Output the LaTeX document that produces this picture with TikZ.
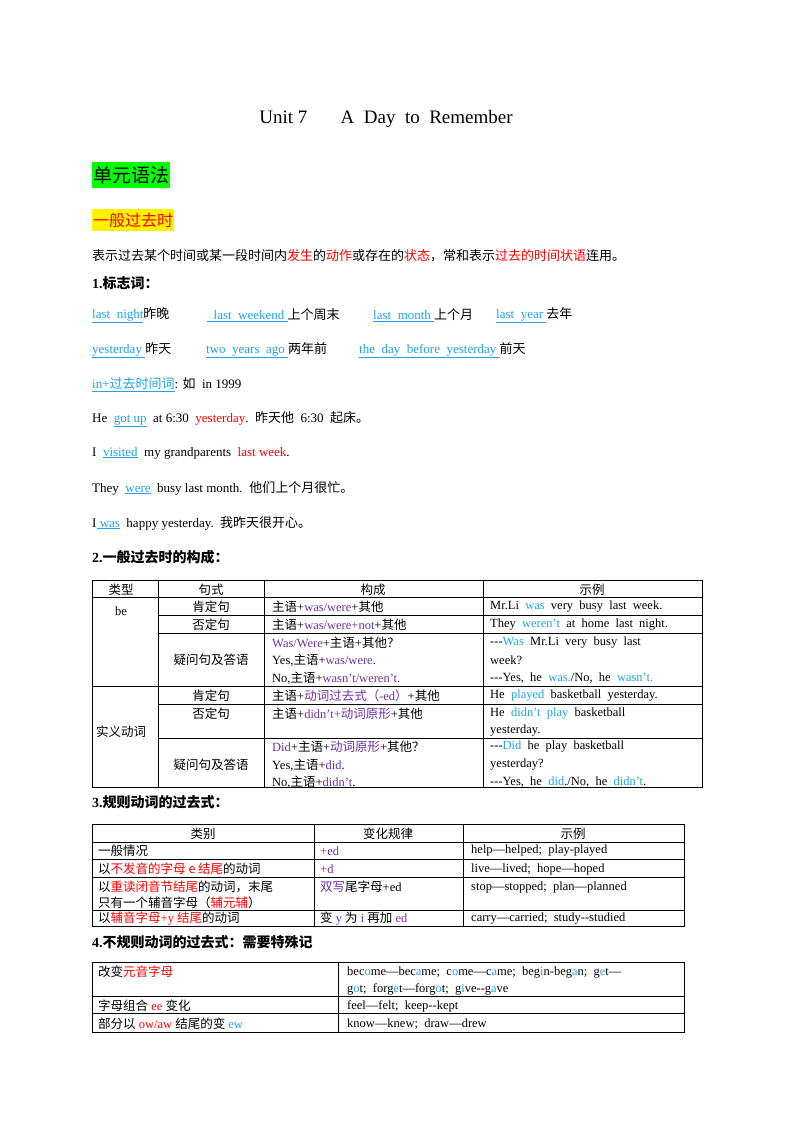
\documentclass[tikz,border=0pt]{standalone}
\usepackage{fontspec}
\setmainfont{Liberation Serif}
\newfontfamily\cjk{Noto Sans CJK SC}
\usepackage{xcolor}
\usetikzlibrary{positioning}
\definecolor{lk}{HTML}{1FA3E6}
\definecolor{pu}{HTML}{7030A0}
\definecolor{rd}{HTML}{FF0000}
\newcommand\z[1]{{\cjk #1}}
\newcommand\lk[1]{\textcolor{lk}{\underline{#1}}}
\newcommand\cb[1]{\textcolor{lk}{#1}}
\newcommand\cp[1]{\textcolor{pu}{#1}}
\newcommand\cre[1]{\textcolor{rd}{#1}}
\newcommand\hy{-{}-{}-}
\newcommand\hh{-{}-}

\begin{document}
\begin{tikzpicture}[x=1pt,y=-1pt,
                    txt/.style={anchor=west,inner sep=0,font=\fontsize{13}{15}\selectfont},
                    cell/.style={anchor=west,inner sep=0,font=\fontsize{12.5}{15}\selectfont},
                    mid/.style={anchor=center,inner sep=0,font=\fontsize{12.5}{15}\selectfont},
                    head/.style={anchor=west,inner sep=0,font=\fontsize{14}{16}\selectfont\bfseries},
                    grid/.style={line width=0.7pt}
                ]
    \useasboundingbox (0,0) rectangle (800,1132);
    % title and headings
    \node[anchor=center,inner sep=0,font=\fontsize{19}{21}\selectfont] (title) at (386,119) {Unit 7\quad\ \ \ A\ \ Day\ \ to\ \ Remember};
    \node[anchor=west,fill=green,inner sep=1pt,minimum height=26pt,font=\fontsize{19}{22}\selectfont] (unit) at (92,175) {\z{单元语法}};
    \node[anchor=west,fill=yellow,inner sep=1pt,minimum height=22pt,font=\fontsize{16}{18}\selectfont] (tense) at (92,220) {\cre{\z{一般过去时}}};
    \node[txt] (def) at (92,256) {\z{表示过去某个时间或某一段时间内\cre{发生}的\cre{动作}或存在的\cre{状态}，常和表示\cre{过去的时间状语}连用。}};
    \node[head] (h1) at (92,283) {1.\z{\bfseries 标志词：}};
    % signal words
    \node[txt] (w1) at (92,315) {\lk{last\ \ night}\z{昨晚}};
    \node[txt] (w2) at (207,315) {\lk{\ \ last\ \ weekend\ }\z{上个周末}};
    \node[txt] (w3) at (373,315) {\lk{last\ \ month\ }\z{上个月}};
    \node[txt] (w4) at (496,315) {\lk{last\ \ year\ }\z{去年}};
    \node[txt] (w5) at (92,350) {\lk{yesterday\ }\z{昨天}};
    \node[txt] (w6) at (206,350) {\lk{two\ \ years\ \ ago\ }\z{两年前}};
    \node[txt] (w7) at (359,350) {\lk{the\ \ day\ \ before\ \ yesterday\ }\z{前天}};
    \node[txt] (w8) at (92,385) {\lk{in+\z{过去时间词}}: \z{如}\ \ in 1999};
    % examples
    \node[txt] (e1) at (92,419) {He\ \ \lk{got\ up}\ \ at 6:30\ \ \cre{yesterday}.\ \ \z{昨天他}\ \ 6:30\ \ \z{起床。}};
    \node[txt] (e2) at (92,453) {I\ \ \lk{visited}\ \ my grandparents\ \ \cre{last week}.};
    \node[txt] (e3) at (92,488) {They\ \ \lk{were}\ \ busy last month.\ \ \z{他们上个月很忙。}};
    \node[txt] (e4) at (92,523) {I\lk{\ was}\ \ happy yesterday.\ \ \z{我昨天很开心。}};
    \node[head] (h2) at (92,557) {2.\z{\bfseries 一般过去时的构成：}};
    % table 1
    \draw[grid] (92,580) rectangle (702,787);
    \foreach \x in {158,264,483} \draw[grid] (\x,580) -- (\x,787);
    \foreach \y in {597,686} \draw[grid] (92,\y) -- (702,\y);
    \foreach \y in {615,633,704,738} \draw[grid] (158,\y) -- (702,\y);
    \node[mid] (a0) at (121,590) {\z{类型}};
    \node[mid] (b0) at (211,590) {\z{句式}};
    \node[mid] (c0) at (373,590) {\z{构成}};
    \node[mid] (d0) at (592,590) {\z{示例}};
    \node[mid] (a1) at (121,611) {be};
    \node[mid] (b1) at (211,607) {\z{肯定句}};
    \node[cell] (c1) at (272,607) {\z{主语}+\cp{was/were}+\z{其他}};
    \node[cell] (d1) at (490,607) {Mr.Li\ \ \cb{was}\ \ very\ \ busy\ \ last\ \ week.};
    \node[mid] (b2) at (211,625) {\z{否定句}};
    \node[cell] (c2) at (272,625) {\z{主语}+\cp{was/were+not}+\z{其他}};
    \node[cell] (d2) at (490,625) {They\ \ \cb{weren't}\ \ at\ \ home\ \ last\ \ night.};
    \node[mid] (b3) at (211,660) {\z{疑问句及答语}};
    \node[cell] (c3) at (272,643) {\cp{Was/Were}+\z{主语}+\z{其他？}};
    \node[cell] (c3b) at (272,660) {Yes,\z{主语}+\cp{was/were}.};
    \node[cell] (c3c) at (272,678) {No,\z{主语}+\cp{wasn't/weren't}.};
    \node[cell] (d3) at (490,643) {\hy\cb{Was}\ \ Mr.Li\ \ very\ \ busy\ \ last};
    \node[cell] (d3b) at (490,660) {week?};
    \node[cell] (d3c) at (490,678) {\hy Yes,\ \ he\ \ \cb{was.}/No,\ \ he\ \ \cb{wasn't.}};
    \node[mid] (a2) at (121,732) {\z{实义动词}};
    \node[mid] (b4) at (211,696) {\z{肯定句}};
    \node[cell] (c4) at (272,696) {\z{主语}+\cp{\z{动词过去式（}-ed\z{）}}+\z{其他}};
    \node[cell] (d4) at (490,696) {He\ \ \cb{played}\ \ basketball\ \ yesterday.};
    \node[mid] (b5) at (211,714) {\z{否定句}};
    \node[cell] (c5) at (272,714) {\z{主语}+\cp{didn't+\z{动词原形}}+\z{其他}};
    \node[cell] (d5) at (490,714) {He\ \ \cb{didn't\ \ play}\ \ basketball};
    \node[cell] (d5b) at (490,731) {yesterday.};
    \node[mid] (b6) at (211,765) {\z{疑问句及答语}};
    \node[cell] (c6) at (272,747) {\cp{Did}+\z{主语}+\cp{\z{动词原形}}+\z{其他？}};
    \node[cell] (c6b) at (272,765) {Yes,\z{主语}+\cp{did}.};
    \node[cell] (c6c) at (272,782) {No,\z{主语}+\cp{didn't}.};
    \node[cell] (d6) at (490,747) {\hy\cb{Did}\ \ he\ \ play\ \ basketball};
    \node[cell] (d6b) at (490,765) {yesterday?};
    \node[cell] (d6c) at (490,782) {\hy Yes,\ \ he\ \ \cb{did}./No,\ \ he\ \ \cb{didn't}.};
    \node[head] (h3) at (92,802) {3.\z{\bfseries 规则动词的过去式：}};
    % table 2
    \draw[grid] (92,824) rectangle (684,926);
    \foreach \x in {314,463} \draw[grid] (\x,824) -- (\x,926);
    \foreach \y in {842,859,877,910} \draw[grid] (92,\y) -- (684,\y);
    \node[mid] (p0) at (203,834) {\z{类别}};
    \node[mid] (q0) at (388,834) {\z{变化规律}};
    \node[mid] (r0) at (573,834) {\z{示例}};
    \node[cell] (p1) at (98,851) {\z{一般情况}};
    \node[cell] (q1) at (320,851) {\cp{+ed}};
    \node[cell] (r1) at (471,851) {help---helped;\ \ play-played};
    \node[cell] (p2) at (98,869) {\z{以\cre{不发音的字母} \cre{e} \cre{结尾}的动词}};
    \node[cell] (q2) at (320,869) {\cp{+d}};
    \node[cell] (r2) at (471,869) {live---lived;\ \ hope---hoped};
    \node[cell] (p3) at (98,887) {\z{以\cre{重读闭音节结尾}的动词，末尾}};
    \node[cell] (p3b) at (98,903) {\z{只有一个辅音字母（\cre{辅元辅}）}};
    \node[cell] (q3) at (320,887) {\z{\cp{双写}尾字母}+ed};
    \node[cell] (r3) at (471,887) {stop---stopped;\ \ plan---planned};
    \node[cell] (p4) at (98,919) {\z{以\cre{辅音字母}}\cre{+y} \z{\cre{结尾}的动词}};
    \node[cell] (q4) at (320,919) {\z{变} \cp{y} \z{为} \cp{i} \z{再加} \cp{ed}};
    \node[cell] (r4) at (471,919) {carry---carried;\ \ study\hh studied};
    \node[head] (h4) at (92,942) {4.\z{\bfseries 不规则动词的过去式：需要特殊记}};
    % table 3
    \draw[grid] (92,962) rectangle (684,1032);
    \draw[grid] (338,962) -- (338,1032);
    \foreach \y in {996,1013} \draw[grid] (92,\y) -- (684,\y);
    \node[cell] (s1) at (98,972) {\z{改变\cre{元音字母}}};
    \node[cell] (t1) at (347,972) {bec\cb{o}me---bec\cb{a}me;\ \ c\cb{o}me---c\cb{a}me;\ \ beg\cb{i}n-beg\cb{a}n;\ \ g\cb{e}t---};
    \node[cell] (t1b) at (347,989) {g\cb{o}t;\ \ forg\cb{e}t---forg\cb{o}t;\ \ g\cb{i}ve\hh g\cb{a}ve};
    \node[cell] (s2) at (98,1006) {\z{字母组合} \cre{ee} \z{变化}};
    \node[cell] (t2) at (347,1006) {feel---felt;\ \ keep\hh kept};
    \node[cell] (s3) at (98,1024) {\z{部分以} \cre{ow/aw} \z{结尾的变} \cb{ew}};
    \node[cell] (t3) at (347,1024) {know---knew;\ \ draw---drew};
\end{tikzpicture}
\end{document}
